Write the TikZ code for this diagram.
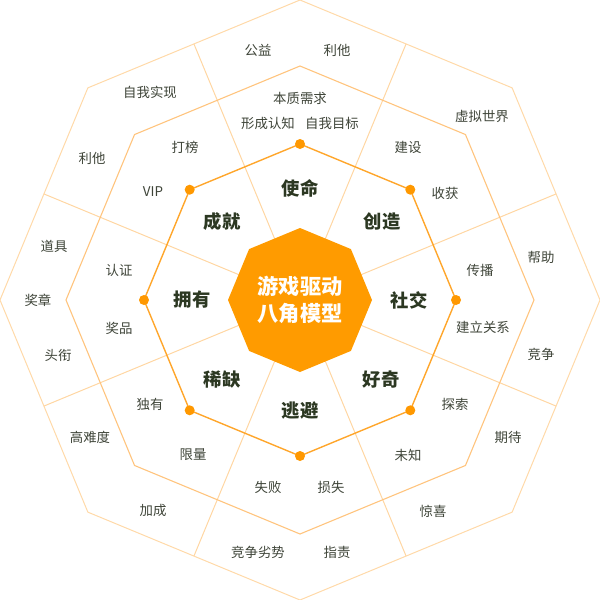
\documentclass[tikz,border=0pt]{standalone}
\usepackage{fontspec}
\setmainfont{Noto Sans CJK SC}
\usetikzlibrary{calc}
\definecolor{outerc}{HTML}{FFD9A8}
\definecolor{radc}{HTML}{FFD6A2}
\definecolor{midc}{HTML}{FFC47E}
\definecolor{innerc}{HTML}{FFA62B}
\definecolor{dotc}{HTML}{FF9800}
\definecolor{corec}{HTML}{FF9B00}
\definecolor{txtc}{HTML}{3E4438}
\definecolor{boldc}{HTML}{2C3822}
\tikzset{
  lbl/.style={font=\fontsize{13.4}{15}\selectfont, text=txtc, inner sep=0pt},
  big/.style={font=\fontsize{18.3}{20}\selectfont\bfseries, text=boldc, inner sep=0pt},
  core/.style={font=\fontsize{21.2}{27.5}\selectfont\bfseries, text=white, align=center, inner sep=0pt},
  outerline/.style={draw=outerc, line width=1pt, line join=miter},
  radline/.style={draw=radc, line width=1pt},
  midline/.style={draw=midc, line width=1.1pt, line join=miter},
  innerline/.style={draw=innerc, line width=1.4pt, line join=miter},
  dot/.style={circle, fill=dotc, minimum size=10pt, inner sep=0pt}
}
\begin{document}
\begin{tikzpicture}[x=1pt,y=-1pt]
\useasboundingbox (0,0) rectangle (600,600);
\coordinate (C) at (300,300);
% radial dividers
\foreach \k in {0,...,7}{
  \coordinate (r\k) at ($(C)+(22.5+45*\k:277.2)$);
  \draw[radline] (C) -- (r\k);
}
% octagons (vertex at top)
\foreach \k in {0,...,7}{
  \coordinate (o\k) at ($(C)+(90+45*\k:300)$);
  \coordinate (m\k) at ($(C)+(90+45*\k:234)$);
  \coordinate (i\k) at ($(C)+(90+45*\k:156)$);
  \coordinate (c\k) at ($(C)+(90+45*\k:72)$);
}
\draw[outerline] (o0)--(o1)--(o2)--(o3)--(o4)--(o5)--(o6)--(o7)--cycle;
\draw[midline] (m0)--(m1)--(m2)--(m3)--(m4)--(m5)--(m6)--(m7)--cycle;
\draw[innerline] (i0)--(i1)--(i2)--(i3)--(i4)--(i5)--(i6)--(i7)--cycle;
\foreach \k in {0,...,7}{ \node[dot] (d\k) at (i\k) {}; }
\fill[corec] (c0)--(c1)--(c2)--(c3)--(c4)--(c5)--(c6)--(c7)--cycle;
\node[core] (center) at (300,300) {游戏驱动\\八角模型};
% inner labels
\node[big] (b1) at (300,188) {使命};
\node[big] (b2) at (382,222) {创造};
\node[big] (b3) at (409,300) {社交};
\node[big] (b4) at (381,380) {好奇};
\node[big] (b5) at (300,411) {逃避};
\node[big] (b6) at (222,380) {稀缺};
\node[big] (b7) at (192,300) {拥有};
\node[big] (b8) at (222,222) {成就};
% middle ring labels
\node[lbl] (t1) at (300,98) {本质需求};
\node[lbl] (t2) at (268,123) {形成认知};
\node[lbl] (t3) at (332,123) {自我目标};
\node[lbl] (t4) at (185,147) {打榜};
\node[lbl] (t5) at (408,147) {建设};
\node[lbl] (t6) at (153,192) {VIP};
\node[lbl] (t7) at (445,193) {收获};
\node[lbl] (t8) at (119,270) {认证};
\node[lbl] (t9) at (119,328) {奖品};
\node[lbl] (t10) at (480,270) {传播};
\node[lbl] (t11) at (483,327) {建立关系};
\node[lbl] (t12) at (150,404) {独有};
\node[lbl] (t13) at (455,404) {探索};
\node[lbl] (t14) at (193,455) {限量};
\node[lbl] (t15) at (408,455) {未知};
\node[lbl] (t16) at (268,487) {失败};
\node[lbl] (t17) at (331,487) {损失};
% outer ring labels
\node[lbl] (u1) at (258,50) {公益};
\node[lbl] (u2) at (337,50) {利他};
\node[lbl] (u3) at (150,92) {自我实现};
\node[lbl] (u4) at (92,158) {利他};
\node[lbl] (u5) at (482,116) {虚拟世界};
\node[lbl] (u6) at (54,246) {道具};
\node[lbl] (u7) at (38,300) {奖章};
\node[lbl] (u8) at (58,355) {头衔};
\node[lbl] (u9) at (541,257) {帮助};
\node[lbl] (u10) at (541,354) {竞争};
\node[lbl] (u11) at (90,437) {高难度};
\node[lbl] (u12) at (508,437) {期待};
\node[lbl] (u13) at (153,510) {加成};
\node[lbl] (u14) at (433,511) {惊喜};
\node[lbl] (u15) at (258,552) {竞争劣势};
\node[lbl] (u16) at (337,552) {指责};
\end{tikzpicture}
\end{document}
